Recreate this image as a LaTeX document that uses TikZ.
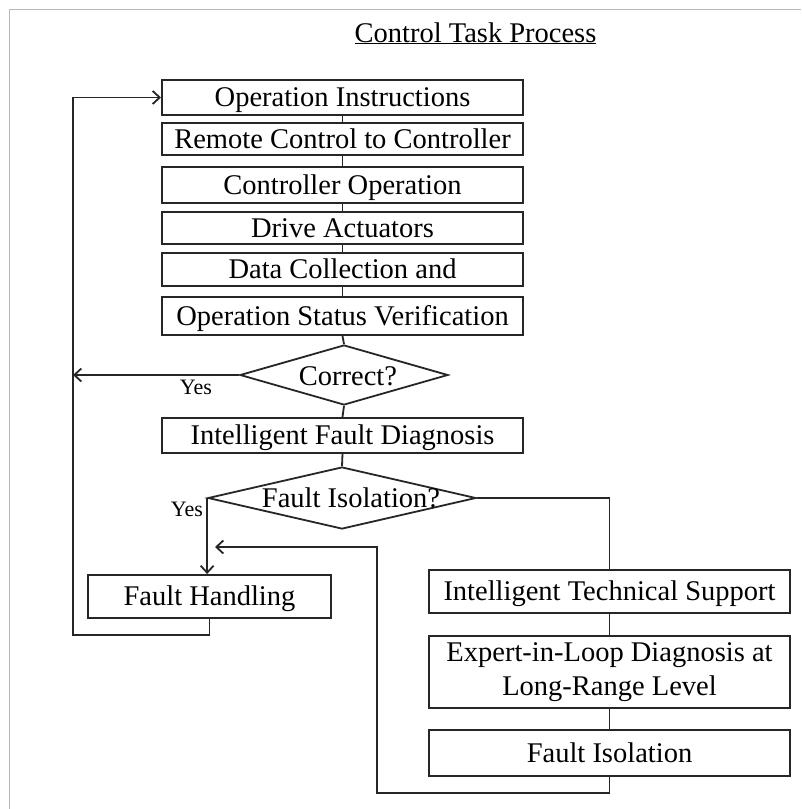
\documentclass[tikz,border=0pt]{standalone}
\usepackage{fontspec}
\setmainfont{Liberation Serif}
\usetikzlibrary{shapes.geometric,arrows.meta}
\begin{document}
\begin{tikzpicture}[x=1pt,y=-1pt,
  box/.style={draw=black!85, line width=2pt, minimum width=361pt, inner sep=0pt, font=\fontsize{28.5}{34}\selectfont, align=center},
  one/.style={box, text height=18pt, text depth=0pt},
  dia/.style={draw=black!85, line width=1.8pt, diamond, inner sep=0pt},
  conn/.style={draw=black!85, line width=1.8pt},
  arr/.style={conn, -{Straight Barb[length=7pt,width=13pt,line width=1.8pt]}},
  lbl/.style={font=\fontsize{28.5}{34}\selectfont},
  yes/.style={font=\fontsize{22}{26}\selectfont}]
\useasboundingbox (0,0) rectangle (801,809);
% frame
\draw[gray!55, line width=1pt] (9,809) -- (9,9) -- (801,9);
% title
\node[lbl, anchor=base, inner sep=0pt] (title) at (475.5,42) {\underline{Control Task Process}};
% left column
\node[one, minimum height=35pt] (b1) at (342.5,97.5) {Operation Instructions};
\node[one, minimum height=32pt] (b2) at (342.5,139) {Remote Control to Controller};
\node[one, minimum height=36pt] (b3) at (342.5,185) {Controller Operation};
\node[one, minimum height=32pt] (b4) at (342.5,228) {Drive Actuators};
\node[one, minimum height=33pt] (b5) at (342.5,269.5) {Data Collection and};
\node[one, minimum height=38pt] (b6) at (342.5,316) {Operation Status Verification};
\node[dia, minimum width=208pt, minimum height=60pt] (d1) at (344,375) {};
\node[lbl] (d1t) at (348,376) {Correct?};
\node[one, minimum height=35pt] (b7) at (342.5,435.5) {Intelligent Fault Diagnosis};
\node[dia, minimum width=268pt, minimum height=62pt] (d2) at (342,498) {};
\node[lbl] (d2t) at (351,498) {Fault Isolation?};
\node[one, minimum width=243pt, minimum height=43pt] (fh) at (209.5,596.5) {Fault Handling};
% right column
\node[one, minimum height=43pt] (r1) at (609.5,591.5) {Intelligent Technical Support};
\node[box, minimum height=72pt] (r2) at (609.5,672) {Expert-in-Loop Diagnosis at\\Long-Range Level};
\node[one, minimum height=46pt] (r3) at (609.5,753) {Fault Isolation};
% labels
\node[yes] (y1) at (196,387) {Yes};
\node[yes] (y2) at (187,509) {Yes};
% coordinates
\coordinate (lp1) at (73,635);
\coordinate (lp2) at (377,793);
\coordinate (rt) at (215,547);
% connectors
\draw[conn] (b1.south) -- (b2.north);
\draw[conn] (b2.south) -- (b3.north);
\draw[conn] (b3.south) -- (b4.north);
\draw[conn] (b4.south) -- (b5.north);
\draw[conn] (b5.south) -- (b6.north);
\draw[conn] (b6.south) -- (d1.north);
\draw[conn] (d1.south) -- (b7.north);
\draw[conn] (b7.south) -- (d2.north);
\draw[arr] (d1.west) -- (lp1 |- d1.west);
\draw[arr] (d2.west) -- (d2.west |- fh.north);
\draw[arr] (fh.south) -- (fh.south |- lp1) -- (lp1) -- (lp1 |- b1.west) -- (b1.west);
\draw[conn] (d2.east) -- (r1.north |- d2.east) -- (r1.north);
\draw[conn] (r1.south) -- (r2.north);
\draw[conn] (r2.south) -- (r3.north);
\draw[arr] (r3.south) -- (r3.south |- lp2) -- (lp2) -- (lp2 |- rt) -- (rt);
\end{tikzpicture}
\end{document}
